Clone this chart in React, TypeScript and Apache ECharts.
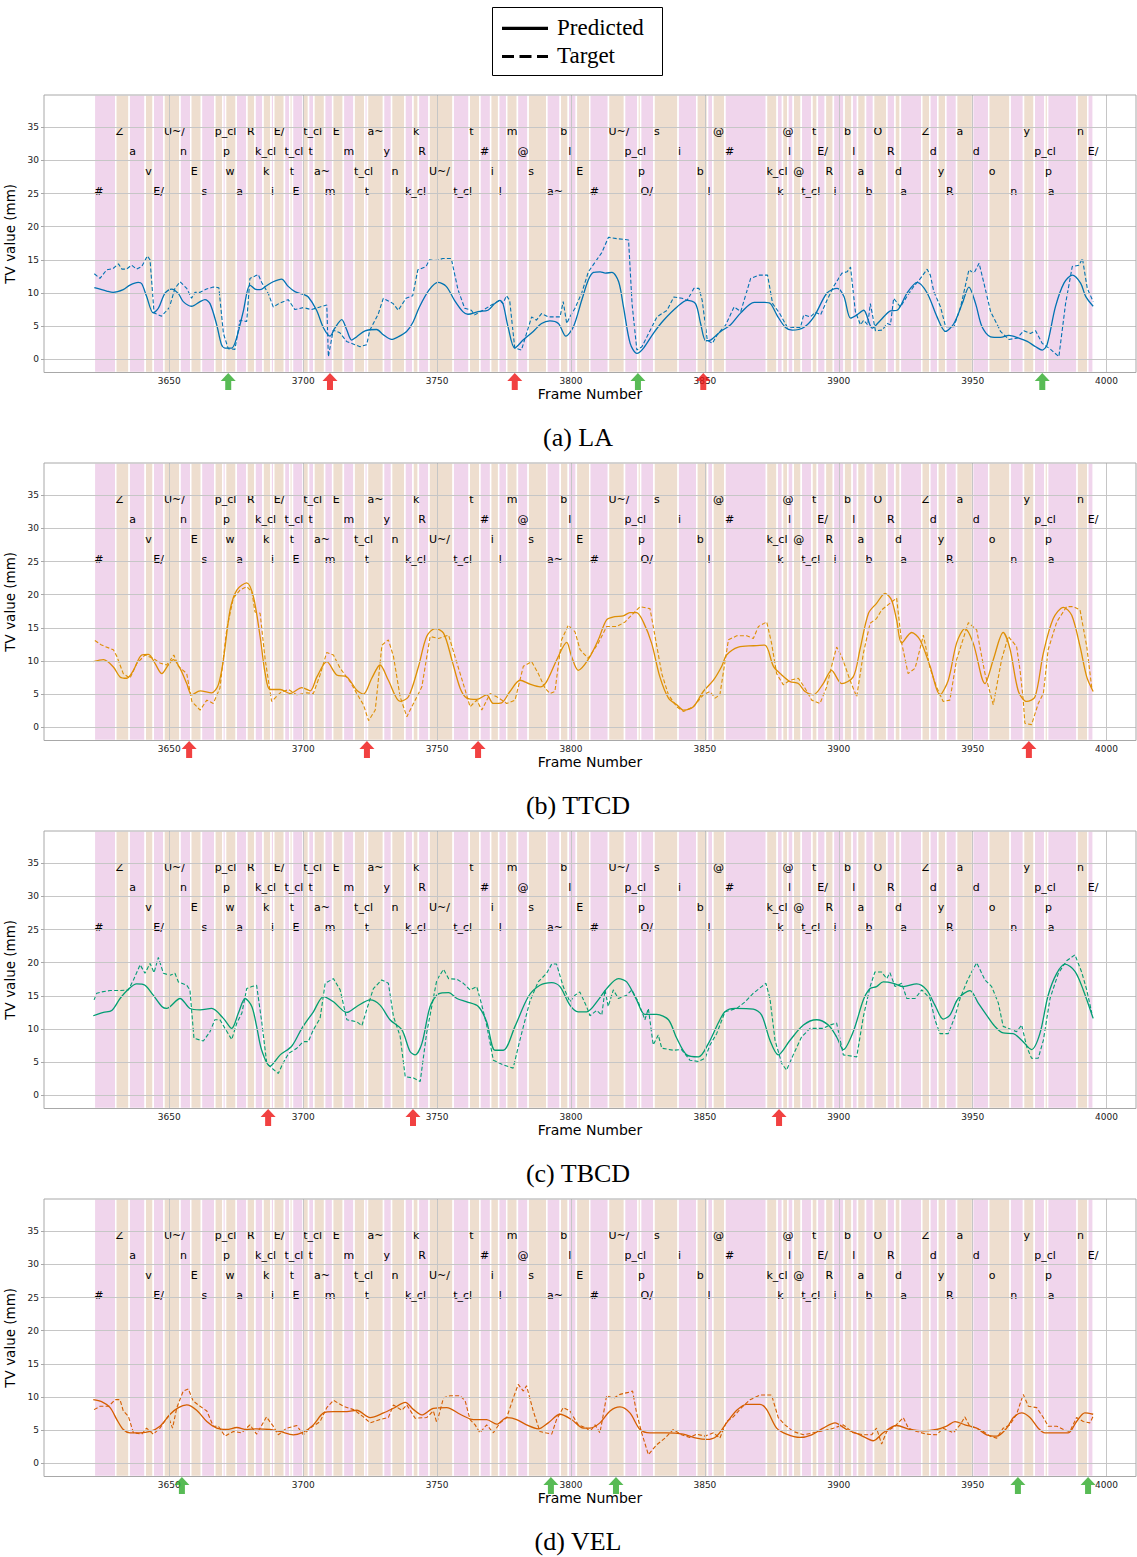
import React, { useEffect, useRef } from 'react';
import * as echarts from 'echarts';

// ---------- data ----------
const PHONES = ['#','Z','a','v','E/','U~/','n','E','s','p_cl','p','w','a','R','k_cl','k','i','E/','t_cl','t','E','t_cl','t','a~','m','E','m','t_cl','t','a~','y','n','k_cl','k','R','U~/','t_cl','t','#','i','l','m','@','s','a~','b','l','E','#','U~/','p_cl','p','O/','s','i','b','l','@','#','k_cl','k','@','l','@','t_cl','t','E/','R','i','b','l','a','b','O','R','d','a','Z','d','y','R','a','d','o','n','y','p_cl','p','a','n','E/'];
const PHONE_STARTS = [3622,3630,3635,3641,3644,3648,3654,3658,3662,3667,3670,3671,3675,3679,3682,3685,3688,3689,3693,3695,3696,3700,3702,3704,3708,3711,3715,3719,3723,3724,3730,3733,3738,3741,3743,3747,3756,3762,3766,3770,3773,3776,3780,3784,3791,3796,3799,3802,3807,3814,3820,3825,3826,3831,3840,3847,3851,3853,3857.5,3873,3877,3879,3881,3883,3886,3890,3892,3895,3898,3902,3905,3907,3910,3913,3918,3921,3923,3931,3934,3937,3940,3944,3950,3956,3964,3969,3973,3977,3978,3989,3993];
const END_FRAME = 3995;
const ROW_Y = [25.35, 34.4, 31.4, 28.4];
const Y_TICKS = [0, 5, 10, 15, 20, 25, 30, 35];
const X_TICKS = [3650, 3700, 3750, 3800, 3850, 3900, 3950, 4000];

const LA_PRED = [[3622,10.8],[3626.6,10.3],[3629,10.1],[3632.8,10.5],[3635.3,11.2],[3638.4,11.6],[3639.7,11.4],[3641.5,9.5],[3644,7.0],[3645.9,7.7],[3648.4,10.0],[3650.9,10.6],[3653.4,9.9],[3655.2,8.7],[3658.3,8.0],[3661.5,8.7],[3663.3,9.0],[3665.2,8.4],[3667.7,5.2],[3669.5,2.2],[3670.8,1.7],[3673.3,1.7],[3675.1,3.2],[3677.6,7.2],[3680.1,11.2],[3682,10.6],[3683.9,10.5],[3686.3,11.1],[3688.8,11.7],[3691.9,12.1],[3694.4,11.0],[3696.9,10.2],[3700,9.8],[3701.9,9.4],[3705,7.4],[3707.5,4.8],[3710,3.5],[3711.8,4.7],[3714.4,6.0],[3716.2,4.5],[3718.1,2.9],[3720,3.4],[3723.1,4.3],[3727.4,4.5],[3729.9,3.7],[3733,3.0],[3735.5,3.4],[3738.6,4.2],[3741,5.6],[3743.4,7.9],[3747.1,10.5],[3750.3,11.6],[3753.4,11.0],[3756.5,8.9],[3759.6,7.2],[3761.5,6.8],[3765.3,7.2],[3769,7.4],[3771.5,8.4],[3773.4,8.9],[3774.6,8.4],[3776.5,4.9],[3779,1.7],[3782.1,2.9],[3785.9,4.2],[3789,5.4],[3792.1,5.8],[3795.3,5.4],[3798.1,3.5],[3800.9,4.9],[3804,8.9],[3806.5,12.0],[3808.4,13.1],[3810.9,13.2],[3812.8,13.0],[3815.3,13.1],[3817.8,11.7],[3819.6,7.9],[3822.1,2.4],[3824.6,0.9],[3827.1,1.7],[3830.9,4.0],[3834.6,5.9],[3839.6,7.9],[3843.4,8.9],[3846.5,8.4],[3848.4,5.4],[3850.3,2.8],[3852.1,2.9],[3855.9,4.2],[3859.6,5.2],[3863.4,7.0],[3868.4,8.6],[3872.4,8.6],[3874.5,8.4],[3877,6.6],[3880.1,4.8],[3882.6,4.4],[3886.9,4.8],[3890.7,6.4],[3895.6,10.0],[3899.4,10.7],[3901.9,9.5],[3904.4,6.2],[3906.8,6.7],[3909.3,7.4],[3912.5,4.7],[3915.6,5.9],[3919.3,7.3],[3921.8,7.4],[3925.5,10.0],[3929.3,11.6],[3933,10.0],[3936.7,6.4],[3939.9,4.2],[3943,5.4],[3946.1,8.4],[3948.6,10.9],[3951.1,8.4],[3953.5,4.9],[3956.7,3.4],[3960.4,3.3],[3963.5,3.6],[3967.2,3.2],[3970.4,2.7],[3973.5,1.9],[3976,1.4],[3977.8,2.2],[3980.9,7.9],[3984.1,11.5],[3987.2,12.7],[3990.3,11.5],[3992.2,9.5],[3995,8.0]];
const LA_TGT = [[3622,12.9],[3624.1,12.2],[3626.6,13.5],[3629,13.7],[3631,14.4],[3632.3,13.6],[3634,13.6],[3635.9,14.2],[3637.8,13.6],[3639.7,14.0],[3641.8,15.6],[3642.8,15.0],[3644.3,7.0],[3647.1,6.5],[3650,7.8],[3652.1,10.7],[3654,11.7],[3656.5,10.7],[3658.3,9.2],[3659.6,10.1],[3661.5,10.1],[3663.9,10.6],[3666.4,10.9],[3668.5,10.8],[3670.2,3.9],[3672,1.6],[3674.5,1.5],[3676.4,5.9],[3678.9,5.7],[3680.1,12.2],[3683.2,12.8],[3684.5,11.6],[3687,9.9],[3688.8,7.9],[3691.3,8.5],[3694.4,9.0],[3696.9,7.5],[3700,7.8],[3703.1,7.5],[3706.3,7.9],[3708.8,8.2],[3709.4,0.4],[3711.2,4.4],[3713.7,4.0],[3716.2,2.7],[3719.3,2.2],[3721.2,1.9],[3723.7,2.2],[3724.9,4.4],[3728,6.8],[3729.9,9.2],[3733.6,8.4],[3735.5,7.4],[3738.4,9.2],[3740.9,9.6],[3742.8,13.5],[3745.9,14.0],[3747.1,15.0],[3749.6,14.9],[3752.1,15.2],[3755.3,15.2],[3757.8,10.5],[3760.3,7.7],[3762.8,7.4],[3764,6.7],[3767.1,7.4],[3770.3,8.2],[3773.4,8.9],[3774.6,8.4],[3775.9,9.6],[3777.1,8.9],[3779,1.7],[3781.5,1.4],[3783.4,3.9],[3785.3,6.4],[3787.1,5.9],[3789,6.9],[3791.5,6.4],[3794.6,6.4],[3795.9,6.4],[3797.1,8.7],[3798.4,5.4],[3799.6,6.4],[3801.5,7.7],[3804,10.0],[3806.5,13.2],[3809.6,15.0],[3811.5,16.1],[3814,18.4],[3817.1,18.2],[3819.6,18.1],[3821.5,18.0],[3822.8,8.4],[3824.6,1.4],[3826.5,1.9],[3829,3.9],[3832.1,6.4],[3835.9,7.4],[3838.4,9.4],[3841.5,9.2],[3843.4,8.9],[3845.9,10.7],[3847.8,10.7],[3849,8.9],[3850.9,2.9],[3852.8,2.4],[3854.6,3.7],[3857.8,5.2],[3860.9,7.9],[3863.4,7.2],[3867.1,12.2],[3870.3,12.7],[3873.4,12.7],[3875.3,8.4],[3877.8,7.0],[3880.7,4.9],[3883.2,4.8],[3885.7,4.8],[3886.9,6.7],[3889.4,6.4],[3891.3,7.1],[3893.2,6.7],[3895.6,8.9],[3898.1,11.0],[3901.2,13.0],[3903.1,13.2],[3904.4,13.9],[3906.2,7.2],[3908.1,5.2],[3909.3,5.9],[3910.8,5.2],[3911.8,8.4],[3913.7,4.3],[3916.2,4.4],[3918.1,5.4],[3919.3,5.2],[3920.5,9.2],[3923,7.9],[3925.5,9.5],[3928,11.0],[3930.5,12.2],[3933,13.6],[3934.2,12.7],[3935.5,10.2],[3938,7.9],[3939.9,4.9],[3943,4.9],[3945.5,7.9],[3948.6,13.5],[3950.5,13.0],[3952.4,14.5],[3954.2,11.5],[3956.7,7.2],[3959.2,5.2],[3960.4,4.2],[3963.5,3.0],[3966.6,3.2],[3969.1,4.3],[3971.6,3.9],[3973.5,4.3],[3976,2.4],[3979.1,1.5],[3982.2,0.4],[3984.7,8.4],[3987.2,14.0],[3989.7,14.2],[3991,15.2],[3992.8,10.7],[3995,8.7]];

const TTCD_PRED = [[3621.6,9.9],[3625.4,10.2],[3629.1,9.1],[3631.6,7.6],[3634.1,7.4],[3636.6,8.6],[3639.7,10.9],[3642.2,11.0],[3644.7,9.6],[3647.2,8.1],[3649.6,9.4],[3651.5,10.2],[3654,8.9],[3656.5,6.6],[3658.4,4.9],[3661.5,5.5],[3665.8,5.2],[3668.3,6.4],[3670.2,10.2],[3672.7,17.7],[3675.2,20.7],[3678.9,21.8],[3681.4,19.7],[3683.9,13.7],[3685.8,8.1],[3687.6,5.7],[3691.4,5.7],[3695.1,5.1],[3699.5,6.0],[3702.6,5.5],[3705.1,7.6],[3708.8,9.9],[3712.5,7.9],[3716.3,7.6],[3720,5.6],[3722.5,5.0],[3725.6,7.4],[3728.7,9.4],[3731.8,7.1],[3736.2,3.9],[3739.3,4.6],[3743,9.1],[3746.1,13.7],[3749.2,14.9],[3752.4,14.2],[3755.5,10.2],[3758.6,5.9],[3761.1,4.4],[3764.8,4.2],[3768.5,4.9],[3771,3.6],[3774.1,3.7],[3777.2,5.4],[3781,7.1],[3784.7,6.5],[3788.5,6.1],[3790.9,6.9],[3794.7,10.2],[3798.4,12.8],[3800.2,10.7],[3802.7,8.6],[3806.4,10.2],[3810.2,13.2],[3813.3,16.2],[3816.4,16.7],[3819.5,16.8],[3822,17.3],[3824.5,17.3],[3827,15.9],[3830.1,12.7],[3833.2,7.6],[3836.4,4.4],[3839.5,3.4],[3842,2.6],[3845.7,3.1],[3849.4,5.4],[3853.2,7.1],[3856.3,9.2],[3858.1,10.9],[3862.5,12.1],[3868.1,12.3],[3872.4,12.4],[3875.6,9.2],[3878.7,7.9],[3881.8,6.9],[3884.9,6.6],[3887.4,5.4],[3890.5,4.9],[3894.2,6.6],[3897.3,8.6],[3901.1,6.6],[3905.4,7.6],[3907.9,11.7],[3911.1,17.2],[3914.1,18.7],[3917.3,20.2],[3919.7,19.2],[3921.6,16.2],[3923.5,12.7],[3927.2,14.3],[3930.3,13.2],[3934.1,9.2],[3937.8,4.9],[3940.9,7.1],[3944,12.7],[3947.1,14.9],[3950.2,12.7],[3954.6,6.6],[3957.7,10.2],[3961.4,14.3],[3963.9,11.9],[3967.1,5.4],[3970.2,3.9],[3973.3,4.6],[3976.4,11.2],[3980.1,16.4],[3983.9,18.1],[3987,16.9],[3990.1,12.2],[3992.6,7.6],[3995,5.4]];
const TTCD_TGT = [[3622.2,13.1],[3624.7,12.4],[3629.1,11.7],[3630.4,10.7],[3632.8,8.1],[3635.3,7.4],[3637.8,9.6],[3640.9,10.9],[3644,10.4],[3646.5,9.7],[3649,9.4],[3651.7,10.9],[3653.4,9.2],[3656.5,8.1],[3658.4,3.9],[3661.5,2.6],[3664,4.1],[3666.4,3.6],[3668.9,5.9],[3671.4,14.7],[3673.9,19.5],[3676.4,20.7],[3678.9,21.2],[3680.8,20.5],[3682,17.4],[3683.9,17.2],[3685.8,10.2],[3688.2,3.9],[3691.4,5.2],[3694.5,5.7],[3697.6,4.9],[3701.3,5.2],[3703.8,5.1],[3706.3,7.9],[3708.8,11.3],[3711.3,10.9],[3713.8,8.9],[3717.5,6.9],[3720,5.1],[3722.5,3.4],[3724.4,1.0],[3726.9,2.6],[3729.4,12.4],[3731.8,13.2],[3733.7,10.7],[3736.2,4.6],[3738.7,1.6],[3741.8,4.1],[3744.3,6.1],[3747.4,13.7],[3750.5,13.4],[3754.3,13.9],[3757.4,9.7],[3760.5,5.6],[3762.3,3.1],[3764.8,4.1],[3766.7,2.6],[3769.8,5.1],[3772.3,4.6],[3776,3.6],[3779.1,4.1],[3782.2,9.2],[3785.3,9.9],[3787.8,8.1],[3790.3,5.9],[3792.2,5.1],[3794,5.4],[3796.5,13.2],[3799,15.4],[3801.5,14.4],[3803.4,11.7],[3806.4,10.4],[3810.2,12.7],[3813.3,15.2],[3817.1,15.2],[3820.2,15.9],[3823.3,17.2],[3825.8,18.2],[3829.5,17.9],[3831.4,13.7],[3833.9,8.1],[3836.4,4.9],[3839.5,3.1],[3842,2.4],[3845.7,3.1],[3849.4,4.9],[3851.9,5.4],[3853.8,4.4],[3855.6,4.9],[3858.8,13.2],[3861.9,13.8],[3865.6,13.8],[3868.1,13.4],[3870,15.2],[3873.1,15.9],[3874.9,12.7],[3876.8,8.1],[3879.3,6.4],[3881.8,7.1],[3884.9,7.4],[3887.4,5.9],[3889.9,4.1],[3893,3.6],[3895.5,6.1],[3897.3,9.2],[3899.2,12.1],[3901.1,10.7],[3904.2,7.1],[3906.7,4.6],[3909.2,11.2],[3911.7,15.7],[3914.1,16.4],[3916,17.7],[3919.1,18.7],[3921.6,19.5],[3923.5,12.7],[3925.9,8.1],[3928.5,8.9],[3931.6,13.9],[3934.1,8.9],[3936.5,6.1],[3939,3.9],[3941.5,4.1],[3944,10.2],[3948.4,15.8],[3951.5,14.7],[3954.6,8.1],[3957.7,3.4],[3960.8,10.2],[3963.3,13.7],[3966.4,12.2],[3967.7,8.6],[3968.9,4.1],[3969.5,0.6],[3972,0.4],[3974.5,3.6],[3976.4,5.1],[3978.2,11.7],[3981.4,15.9],[3985.1,18.2],[3987.6,18.2],[3990.1,17.7],[3992.6,12.2],[3994.5,5.9]];

const TBCD_PRED = [[3621.6,12.0],[3625.4,12.5],[3628.5,12.8],[3631.6,14.6],[3634.7,16.0],[3637.8,16.8],[3640.9,16.6],[3644,15.1],[3647.2,13.4],[3649,13.1],[3654,14.6],[3657.7,13.1],[3661.5,12.9],[3665.8,13.1],[3670.2,11.6],[3673.3,10.1],[3675.8,12.4],[3678.3,14.6],[3680.8,13.4],[3682.6,10.4],[3684.5,6.8],[3687.6,4.4],[3691.4,6.1],[3695.7,7.4],[3699.5,10.1],[3703.8,12.6],[3707.6,14.9],[3711.3,14.1],[3716.3,12.5],[3720,13.4],[3725,14.4],[3728.7,13.6],[3732.4,11.4],[3736.8,9.9],[3739.9,6.6],[3741.8,6.1],[3744.3,7.8],[3747.4,13.4],[3750.5,15.3],[3754.3,15.5],[3757.4,14.6],[3761.1,14.1],[3765.4,13.4],[3768.5,11.1],[3771.6,6.8],[3774.7,6.8],[3779.1,10.4],[3784.1,14.9],[3788.4,16.6],[3792.8,17.0],[3795.9,16.4],[3799.6,13.6],[3802.7,12.6],[3805.8,12.6],[3810.2,14.4],[3813.3,16.1],[3817.7,17.6],[3820.8,17.1],[3824.5,14.4],[3827.6,12.2],[3832,12.2],[3836.4,11.4],[3839.5,8.6],[3843.2,6.1],[3847.6,5.8],[3851.3,7.8],[3855,10.9],[3857.5,12.6],[3861.2,13.1],[3868.1,13.0],[3871.2,12.1],[3874.3,8.3],[3877.4,6.1],[3881.8,8.3],[3886.8,10.6],[3891.7,11.4],[3896.1,10.6],[3899.2,8.8],[3901.7,6.9],[3905.4,9.6],[3909.2,14.4],[3911.7,16.1],[3914.1,16.4],[3916.6,17.1],[3920.4,16.9],[3924.1,16.4],[3929.1,16.8],[3932.8,15.9],[3935.9,13.6],[3939,11.5],[3941.5,12.1],[3944.6,14.6],[3949,15.8],[3952.1,13.9],[3955.2,12.1],[3958.3,10.4],[3961.4,9.4],[3965.2,9.3],[3968.3,8.3],[3972,6.9],[3975.1,9.3],[3978.2,15.1],[3981.4,18.4],[3984.5,19.8],[3988.2,18.7],[3991.3,15.9],[3995,11.6]];
const TBCD_TGT = [[3621.9,14.4],[3622.9,15.4],[3624.8,15.6],[3627.9,15.8],[3631.6,15.8],[3634.7,15.9],[3636.6,17.4],[3639.1,19.7],[3640.9,18.4],[3642.8,19.9],[3644.3,18.5],[3645.9,20.8],[3647.8,18.4],[3650.3,18.1],[3652.1,18.4],[3653.4,17.1],[3656.5,16.6],[3657.7,15.9],[3659.2,8.6],[3662.7,8.2],[3665.2,9.6],[3667,11.4],[3668.9,11.4],[3670.8,10.1],[3673.3,8.4],[3675.2,10.9],[3677.1,12.4],[3678.9,16.1],[3680.8,16.4],[3682.6,16.6],[3684.5,11.1],[3686.4,4.8],[3688.3,4.1],[3690.7,3.3],[3692.4,4.8],[3694.5,6.3],[3697.6,7.1],[3700,8.1],[3701.9,8.1],[3703.8,9.9],[3706.3,11.6],[3708.2,16.9],[3711.3,17.6],[3713.8,15.9],[3716.3,11.4],[3720,11.1],[3721.9,10.5],[3723.7,12.9],[3726.2,16.1],[3729.3,17.4],[3731.8,16.9],[3733.7,11.9],[3736.2,8.9],[3738.1,2.8],[3741.2,2.6],[3743.7,2.1],[3746.1,9.4],[3749.9,17.4],[3752.4,19.0],[3754.3,17.6],[3757.4,17.5],[3759.8,16.9],[3762.3,15.9],[3764.8,16.4],[3766.7,13.6],[3768.5,10.6],[3771,5.3],[3774.7,4.6],[3778.4,4.1],[3780.9,8.3],[3784.6,14.1],[3787.7,17.1],[3790.9,18.4],[3792.8,19.8],[3794.6,19.8],[3797.1,16.4],[3799.6,14.1],[3801.5,15.1],[3803.3,15.6],[3805.8,13.4],[3807.1,12.0],[3809.6,12.8],[3811.5,12.1],[3812.7,15.9],[3813.9,13.4],[3815.8,15.9],[3817.7,14.6],[3820.8,15.1],[3822.7,15.9],[3825.1,14.1],[3827.6,11.4],[3828.9,13.1],[3830.7,7.6],[3832.6,9.1],[3833.9,7.1],[3838.2,6.8],[3841.3,6.9],[3844.4,5.3],[3847.6,5.1],[3850.1,5.6],[3851.9,7.6],[3854.4,9.3],[3857.5,12.6],[3861.9,13.1],[3865,14.1],[3868.1,15.4],[3871.2,16.4],[3872.8,16.9],[3874.3,14.6],[3876.2,8.3],[3878.7,4.8],[3880.5,3.8],[3883,6.1],[3886.1,8.8],[3889.3,10.1],[3894.2,10.1],[3896.7,10.6],[3899.2,10.9],[3901.7,6.1],[3906.7,5.8],[3909.2,11.9],[3911.7,16.4],[3913.5,18.6],[3916,18.6],[3917.9,17.6],[3919.1,18.5],[3921,16.4],[3923.5,16.9],[3925.4,14.6],[3928.5,14.6],[3931,15.9],[3934.1,14.6],[3935.9,11.4],[3937.8,9.3],[3940.9,9.3],[3943.4,11.9],[3945.3,14.6],[3947.8,17.1],[3949.6,18.6],[3951.5,20.0],[3954.6,17.4],[3957.1,16.4],[3959.6,13.9],[3961.4,10.4],[3963.9,10.0],[3966.4,9.6],[3968.3,10.6],[3970.2,7.3],[3972,5.6],[3974.5,5.6],[3976.4,8.3],[3978.9,14.6],[3982,18.4],[3985.1,20.3],[3988.2,21.2],[3990.7,18.6],[3992.6,15.9],[3994.5,12.4]];

const VEL_PRED = [[3621.6,9.6],[3624.7,9.3],[3627.9,8.4],[3630.4,6.6],[3632.8,5.1],[3635.3,4.6],[3639.1,4.6],[3642.8,4.8],[3646.5,5.6],[3650.3,7.4],[3653.4,8.4],[3656.5,8.8],[3660.2,8.0],[3664,6.3],[3667.7,5.3],[3671.4,5.1],[3675.2,5.4],[3678.9,5.1],[3682.6,5.2],[3687.6,5.1],[3691.4,4.8],[3696.3,4.3],[3700,4.7],[3703.8,5.8],[3707.6,7.6],[3711.3,7.8],[3716.3,7.8],[3720,8.0],[3725,6.9],[3730,7.6],[3733.7,8.3],[3738.1,9.2],[3741.2,8.1],[3744.3,7.3],[3748.6,8.3],[3753.6,8.4],[3758.6,7.4],[3763.6,6.6],[3768.5,6.6],[3772.3,5.9],[3776,6.9],[3779.7,6.6],[3783.4,5.8],[3787.8,5.2],[3791.5,6.1],[3795.9,7.4],[3800.2,6.6],[3804.6,5.3],[3807.1,5.3],[3810.8,6.1],[3814.6,7.9],[3818.3,8.5],[3822,7.6],[3825.8,5.1],[3829.5,4.6],[3835.7,4.6],[3841.9,4.4],[3846.9,3.8],[3850.7,3.6],[3854.4,4.1],[3858.1,6.1],[3861.9,8.0],[3865.6,8.9],[3870.6,8.9],[3873.1,8.1],[3876.8,5.3],[3880.5,4.4],[3885.5,3.9],[3889.9,4.3],[3894.2,5.3],[3898.6,6.1],[3902.9,5.1],[3907.9,4.3],[3912.9,3.4],[3916.6,4.6],[3921.6,5.7],[3926.6,5.1],[3931.6,4.9],[3936.5,5.1],[3940.3,5.6],[3943.4,6.3],[3947.1,5.8],[3951.5,5.3],[3955.2,4.3],[3959,4.1],[3962.7,5.3],[3965.2,6.9],[3968.3,7.6],[3971.4,6.9],[3974.5,5.3],[3977,4.6],[3981.4,4.6],[3985.7,4.6],[3988.8,6.3],[3991.9,7.6],[3995,7.4]];
const VEL_TGT = [[3621.9,8.1],[3624.1,8.6],[3627.3,8.6],[3629.8,9.6],[3631.6,9.6],[3632.8,7.9],[3634.7,7.1],[3636.6,4.6],[3639.7,4.4],[3641.5,5.3],[3644,4.4],[3646.5,5.3],[3649.6,7.1],[3651.2,5.3],[3652.8,8.4],[3655.2,10.9],[3657.1,11.2],[3658.9,9.4],[3661.5,8.6],[3664,7.9],[3666.4,5.6],[3668.3,5.6],[3670.8,4.1],[3673.9,4.8],[3677,4.6],[3680.1,5.8],[3682.6,4.4],[3686.3,7.0],[3688.8,5.6],[3690.7,4.3],[3693.8,5.3],[3697.6,5.7],[3700,4.3],[3702.6,5.3],[3706.3,6.3],[3708.8,8.4],[3711.3,9.5],[3715,8.6],[3718.8,8.1],[3722.5,7.0],[3725,6.1],[3728.7,6.6],[3731.8,6.9],[3733.7,8.8],[3736.8,8.0],[3738.7,8.8],[3741.8,6.8],[3746.1,6.9],[3748.6,7.9],[3749.9,6.1],[3752.4,9.9],[3754.9,10.2],[3758.6,10.2],[3760.5,9.4],[3762.3,6.6],[3764.2,5.8],[3766,4.6],[3768.5,5.8],[3771,4.6],[3773.5,6.1],[3776,6.9],[3778.5,9.9],[3780.3,11.9],[3782.2,10.9],[3783.4,11.7],[3785.9,7.9],[3788.4,4.8],[3792.8,4.4],[3794.6,6.6],[3797.1,8.4],[3799.6,7.9],[3802.7,5.8],[3805.8,5.3],[3807.1,4.8],[3809,5.8],[3810.8,4.6],[3812.1,7.4],[3813.3,10.2],[3815.8,9.8],[3818.3,10.4],[3821.4,10.7],[3823,10.9],[3824.5,7.6],[3826.4,4.6],[3828.9,1.3],[3832,2.8],[3835.1,3.8],[3838.2,5.1],[3841.3,4.3],[3844.4,3.9],[3846.9,4.4],[3850.1,4.1],[3853.2,4.6],[3855.6,3.8],[3858.1,6.3],[3860.6,7.0],[3863.7,8.4],[3866.9,9.6],[3870.6,10.3],[3874.9,10.3],[3877.4,6.9],[3879.9,5.8],[3883,4.8],[3886.8,4.3],[3890.5,4.6],[3894.2,4.9],[3898,5.3],[3901.7,5.8],[3905.4,4.6],[3909.2,4.3],[3912.3,4.3],[3914.1,5.3],[3916,2.9],[3917.9,4.8],[3921,5.6],[3924.1,6.9],[3926,5.3],[3929.1,4.8],[3932.8,4.4],[3936.5,4.3],[3939,5.3],[3942.8,4.6],[3945.3,5.8],[3947.1,7.0],[3948.9,5.6],[3951.5,5.3],[3954,4.8],[3956.5,4.1],[3959,3.8],[3961.4,5.3],[3963.9,5.8],[3966.4,7.4],[3968.9,10.4],[3970.8,8.6],[3973.9,8.4],[3976.4,6.9],[3978.2,5.6],[3981.4,5.6],[3983.9,5.1],[3986.3,4.8],[3988.8,6.9],[3991.3,6.3],[3993.8,6.1],[3995,7.1]];

const LA_GREEN = [3672, 3825, 3976];
const LA_RED = [3710, 3779, 3849.4];
const TTCD_GREEN: number[] = [];
const TTCD_RED = [3657.4, 3723.8, 3765.3, 3971];
const TBCD_GREEN: number[] = [];
const TBCD_RED = [3686.9, 3741, 3877.7];
const VEL_GREEN = [3654.7, 3792.5, 3816.8, 3966.9, 3993.1];
const VEL_RED: number[] = [];

const CAPTIONS = ['(a) LA', '(b) TTCD', '(c) TBCD', '(d) VEL'];
const LEGEND_LABELS = ['Predicted', 'Target'];

// ---------- styling ----------
const COLORS = ['#0173b2', '#de8f05', '#029e73', '#d55e00'];
const PINK = '#f0d5ec';
const TAN = '#eedecf';
const PANEL_STEP = 368;
const GRID_LEFT = 44;
const GRID_TOP = 95;
const GRID_W = 1092;
const GRID_H = 277.5;
const X_MIN = 3603.2;
const X_MAX = 4011;
const Y_MIN = -1.99;
const Y_MAX = 39.87;
const ARROW_Y = -3.35;
const ARROW_PATH = 'path://M7.5,0 L15,8 L10.5,8 L10.5,17 L4.5,17 L4.5,8 L0,8 Z';

const PANELS = [
  { pred: LA_PRED, tgt: LA_TGT, green: LA_GREEN, red: LA_RED },
  { pred: TTCD_PRED, tgt: TTCD_TGT, green: TTCD_GREEN, red: TTCD_RED },
  { pred: TBCD_PRED, tgt: TBCD_TGT, green: TBCD_GREEN, red: TBCD_RED },
  { pred: VEL_PRED, tgt: VEL_TGT, green: VEL_GREEN, red: VEL_RED },
];

function buildOption() {
  const bands = PHONE_STARTS.map((s, k) => [s, k + 1 < PHONE_STARTS.length ? PHONE_STARTS[k + 1] : END_FRAME, k % 2]);
  const labels = PHONES.map((p, k) => [PHONE_STARTS[k], ROW_Y[k % 4], k]);
  const grids: any[] = [];
  const xAxes: any[] = [];
  const yAxes: any[] = [];
  const series: any[] = [];
  const graphic: any[] = [];

  PANELS.forEach((panel, i) => {
    const top = GRID_TOP + PANEL_STEP * i;
    grids.push({ left: GRID_LEFT, top, width: GRID_W, height: GRID_H, show: true, borderColor: '#a8a8a8', borderWidth: 1, backgroundColor: 'transparent', z: 10, containLabel: false, outerBoundsMode: 'none' });
    xAxes.push({
      type: 'value', gridIndex: i, min: X_MIN, max: X_MAX,
      axisLine: { show: false },
      axisTick: { show: true, customValues: X_TICKS, length: 3, lineStyle: { color: '#a8a8a8' } },
      axisLabel: { customValues: X_TICKS, formatter: (v: number) => String(v), fontSize: 9, color: '#1a1a1a', margin: 4, fontFamily: 'DejaVu Sans' },
      splitLine: { show: false },
      name: 'Frame Number', nameLocation: 'middle', nameGap: 14,
      nameTextStyle: { fontSize: 14, color: '#000', fontFamily: 'DejaVu Sans', verticalAlign: 'top' },
    });
    yAxes.push({
      type: 'value', gridIndex: i, min: Y_MIN, max: Y_MAX,
      axisLine: { show: false },
      axisTick: { show: true, customValues: Y_TICKS, length: 3, lineStyle: { color: '#a8a8a8' } },
      axisLabel: { customValues: Y_TICKS, formatter: (v: number) => String(v), fontSize: 9, color: '#1a1a1a', margin: 5, fontFamily: 'DejaVu Sans' },
      splitLine: { show: false },
      name: 'TV value (mm)', nameLocation: 'middle', nameGap: 20, nameRotate: 90,
      nameTextStyle: { fontSize: 13.5, color: '#000', fontFamily: 'DejaVu Sans' },
    });

    series.push({
      type: 'custom', xAxisIndex: i, yAxisIndex: i, z: 1, silent: true,
      encode: { x: [0, 1] },
      data: bands,
      renderItem: (params: any, api: any) => {
        const x0 = api.coord([api.value(0), 0])[0];
        const x1 = api.coord([api.value(1), 0])[0];
        const cs = params.coordSys;
        return {
          type: 'rect',
          shape: { x: x0, y: cs.y, width: x1 - x0, height: cs.height },
          style: { fill: api.value(2) ? TAN : PINK, stroke: '#ffffff', lineWidth: 1.5 },
        };
      },
    });
    series.push({
      type: 'line', xAxisIndex: i, yAxisIndex: i, z: 2, silent: true, data: [],
      markLine: {
        silent: true, symbol: ['none', 'none'], label: { show: false }, animation: false,
        lineStyle: { color: '#c6c6c6', width: 1, type: 'solid' },
        emphasis: { disabled: true },
        data: [...Y_TICKS.map((v) => ({ yAxis: v })), ...X_TICKS.map((v) => ({ xAxis: v }))],
      },
    });
    series.push({
      type: 'custom', xAxisIndex: i, yAxisIndex: i, z: 3, silent: true,
      encode: { x: 0, y: 1 },
      data: labels,
      renderItem: (params: any, api: any) => {
        const p = api.coord([api.value(0), api.value(1)]);
        return {
          type: 'text', x: p[0], y: p[1],
          style: { text: PHONES[api.value(2)], fill: '#000', font: '11px "DejaVu Sans"', textAlign: 'left', textVerticalAlign: 'middle', align: 'left', verticalAlign: 'middle' },
        };
      },
    });
    series.push({
      type: 'line', xAxisIndex: i, yAxisIndex: i, z: 4, silent: true,
      data: panel.pred, showSymbol: false, smooth: 0.3,
      lineStyle: { color: COLORS[i], width: 1.3 },
    });
    series.push({
      type: 'line', xAxisIndex: i, yAxisIndex: i, z: 4, silent: true,
      data: panel.tgt, showSymbol: false, smooth: false,
      lineStyle: { color: COLORS[i], width: 1.1, type: [4, 2.2] },
    });
    const arrows = [
      ...panel.green.map((f) => ({ value: [f, ARROW_Y], itemStyle: { color: '#2eaa2a' } })),
      ...panel.red.map((f) => ({ value: [f, ARROW_Y], itemStyle: { color: '#ee1111' } })),
    ];
    series.push({
      type: 'scatter', xAxisIndex: i, yAxisIndex: i, z: 12, silent: true, clip: false,
      symbol: ARROW_PATH, symbolSize: [15, 17], data: arrows,
    });

    graphic.push({
      type: 'text', x: 578, y: 437 + PANEL_STEP * i, z: 20,
      style: { text: CAPTIONS[i], font: '26px "Liberation Serif"', fill: '#000', textAlign: 'center', textVerticalAlign: 'middle', align: 'center', verticalAlign: 'middle' },
    });
  });

  graphic.push(
    { type: 'rect', shape: { x: 492.5, y: 7.5, width: 170, height: 68 }, style: { fill: '#fff', stroke: '#000', lineWidth: 1 }, z: 20 },
    { type: 'line', shape: { x1: 502, y1: 28.3, x2: 548, y2: 28.3 }, style: { stroke: '#000', lineWidth: 3.2 }, z: 21 },
    { type: 'line', shape: { x1: 502, y1: 56.5, x2: 548, y2: 56.5 }, style: { stroke: '#000', lineWidth: 3.2, lineDash: [12, 5.5] }, z: 21 },
    { type: 'text', x: 557, y: 27.5, z: 21, style: { text: LEGEND_LABELS[0], font: '23px "Liberation Serif"', fill: '#000', textVerticalAlign: 'middle', verticalAlign: 'middle' } },
    { type: 'text', x: 557, y: 55.5, z: 21, style: { text: LEGEND_LABELS[1], font: '23px "Liberation Serif"', fill: '#000', textVerticalAlign: 'middle', verticalAlign: 'middle' } },
  );

  return {
    animation: false,
    backgroundColor: '#ffffff',
    grid: grids,
    xAxis: xAxes,
    yAxis: yAxes,
    series,
    graphic,
  };
}

export default function App() {
  const ref = useRef<HTMLDivElement>(null);
  useEffect(() => {
    if (!ref.current) return;
    const chart = echarts.init(ref.current, undefined, { renderer: 'svg' });
    chart.setOption(buildOption() as any);
    return () => chart.dispose();
  }, []);
  return <div ref={ref} style={{ position: 'absolute', left: 0, top: 0, width: 1137, height: 1557 }} />;
}
